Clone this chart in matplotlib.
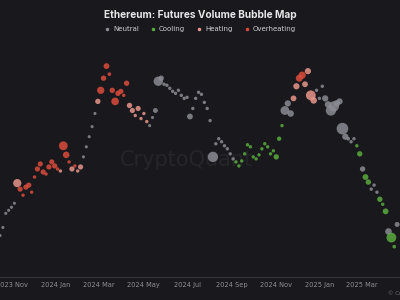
import matplotlib
matplotlib.use("Agg")
import matplotlib.pyplot as plt
import matplotlib.dates as mdates
from matplotlib.lines import Line2D
import pandas as pd

# ---- data (sampled every 4 days) ----
start_date = "2023-10-15"
price = [1636, 1748, 1944, 1986, 2028, 2084, 2364, 2280, 2196, 2308, 2336, 2238,
         2448, 2560, 2630, 2518, 2490, 2588, 2658, 2602, 2560, 2532, 2882, 2756,
         2658, 2560, 2602, 2532, 2588, 2728, 2868, 3008, 3148, 3330, 3498, 3652,
         3820, 3988, 3876, 3652, 3498, 3610, 3638, 3582, 3750, 3442, 3372, 3302,
         3400, 3260, 3330, 3218, 3162, 3274, 3372, 3778, 3820, 3736, 3722, 3680,
         3638, 3610, 3652, 3582, 3540, 3554, 3288, 3400, 3540, 3624, 3596, 3484,
         3400, 3232, 2728, 2910, 2980, 2938, 2882, 2840, 2770, 2700, 2658, 2602,
         2672, 2770, 2896, 2868, 2728, 2700, 2756, 2840, 2910, 2868, 2770, 2812,
         2728, 2980, 3162, 3372, 3470, 3330, 3540, 3708, 3820, 3862, 3736, 3918,
         3582, 3512, 3652, 3540, 3708, 3540, 3456, 3372, 3428, 3470, 3498, 3120,
         3008, 2980, 2938, 2980, 2882, 2770, 2560, 2448, 2378, 2280, 2336, 2238,
         2140, 2070, 1972, 1692, 1608, 1482, 1790]
category = ["N", "N", "N", "N", "N", "N", "H", "O", "O", "O", "O", "O",
            "O", "O", "O", "O", "O", "O", "O", "O", "O", "H", "O", "O",
            "O", "H", "O", "H", "H", "N", "N", "N", "N", "N", "H", "O",
            "O", "O", "O", "O", "O", "O", "O", "O", "O", "H", "H", "H",
            "H", "H", "H", "H", "N", "N", "N", "N", "N", "N", "N", "N",
            "N", "N", "N", "N", "N", "N", "N", "N", "N", "N", "N", "N",
            "N", "N", "N", "N", "N", "N", "N", "N", "N", "N", "C", "C",
            "C", "C", "C", "C", "C", "C", "C", "C", "C", "C", "C", "C",
            "C", "C", "C", "N", "N", "N", "H", "H", "O", "O", "H", "H",
            "H", "H", "N", "N", "N", "N", "N", "N", "N", "N", "N", "N",
            "N", "N", "N", "N", "C", "C", "N", "C", "C", "N", "N", "N",
            "C", "C", "C", "N", "C", "C", "N"]
volume = [10, 10, 10, 10, 10, 10, 70, 28, 12, 28, 28, 12,
          12, 28, 28, 28, 12, 28, 28, 28, 12, 12, 80, 45, 12, 28, 12, 12,
          28, 10, 10, 10, 10, 10, 30, 55, 30, 35, 14, 30, 60, 30, 28, 12,
          30, 30, 28, 12, 28, 12, 12, 12, 10, 10, 25, 90, 30, 12, 12, 12,
          12, 12, 12, 12, 12, 12, 35, 12, 12, 12, 12, 12, 12, 12, 110, 12,
          12, 12, 12, 12, 12, 12, 12, 12, 12, 12, 12, 12, 12, 12, 12, 12,
          12, 12, 12, 12, 30, 20, 12, 80, 40, 45, 35, 40, 50, 55, 35, 40,
          100, 45, 12, 12, 12, 40, 45, 110, 110, 45, 40, 140, 40, 14, 12,
          12, 12, 30, 30, 35, 30, 12, 12, 12, 30, 12, 35, 45, 100, 14, 25]

labels = {"N": "Neutral", "C": "Cooling", "H": "Heating", "O": "Overheating"}
colors = {"N": "#8b8b93", "C": "#5aab3e", "H": "#e8958b", "O": "#dc4b3c"}

dates = pd.date_range(start_date, periods=len(price), freq="4D")
df = pd.DataFrame({"date": dates, "price": price, "cat": category, "vol": volume})

BG = "#19191d"
fig = plt.figure(figsize=(4, 3), dpi=100, facecolor=BG)
ax = fig.add_axes([0, 0.077, 1, 0.78], facecolor=BG)

for c in ["N", "C", "H", "O"]:
    d = df[df["cat"] == c]
    ax.scatter(d["date"], d["price"], s=d["vol"] * 0.5, color=colors[c],
               alpha=0.85, linewidths=0, zorder=3)

ax.set_xlim(pd.Timestamp("2023-10-15"), pd.Timestamp("2025-04-23"))
ax.set_ylim(1062, 4310)
ax.xaxis.set_major_locator(mdates.MonthLocator(bymonth=[1, 3, 5, 7, 9, 11]))
ax.xaxis.set_major_formatter(mdates.DateFormatter("%Y %b"))
ax.tick_params(axis="x", length=0, pad=4, labelsize=4.8, labelcolor="#8e8e94")
ax.set_yticks([])
for s in ["top", "right", "left"]:
    ax.spines[s].set_visible(False)
ax.spines["bottom"].set_color("#34343a")
ax.spines["bottom"].set_linewidth(0.8)

ax.text(0.465, 0.5, "CryptoQuant", transform=ax.transAxes, ha="center",
        va="center", fontsize=15, color="#25252a", zorder=1)

fig.text(0.5, 0.95, "Ethereum: Futures Volume Bubble Map", ha="center",
         va="center", fontsize=7.3, fontweight="bold", color="#e6e6e8",
         family="Inter")

handles = [Line2D([], [], marker="o", linestyle="", markersize=1.5,
                  color=colors[c], label=labels[c]) for c in ["N", "C", "H", "O"]]
fig.legend(handles=handles, loc="center", bbox_to_anchor=(0.5, 1 - 29 / 300),
           ncol=4, frameon=False, fontsize=5, labelcolor="#cfcfd3",
           handlelength=0.8, handletextpad=0.5, columnspacing=1.6)

fig.text(388 / 400, 7 / 300, "© CryptoQuant", ha="left", va="center",
         fontsize=4, color="#6a6a70")

fig.savefig("out.png", dpi=100, facecolor=BG)
